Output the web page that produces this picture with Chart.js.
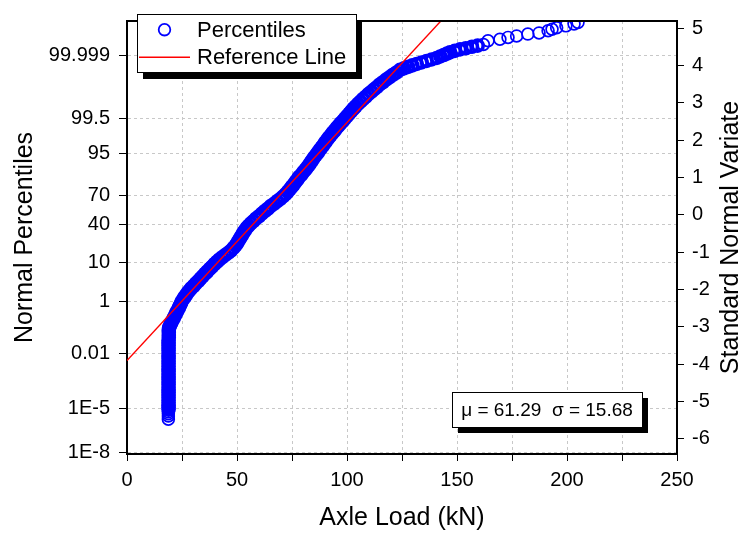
<!DOCTYPE html>
<html>
<head>
<meta charset="utf-8">
<script src="https://cdn.jsdelivr.net/npm/chart.js@4.4.0/dist/chart.umd.min.js"></script>
<style>
  html, body { margin: 0; padding: 0; background: #fff; }
  #wrap { width: 744px; height: 535px; }
</style>
</head>
<body>
<div id="wrap"><canvas id="chart" width="744" height="535"></canvas></div>
<script>
// percentiles: axle load (kN) vs standard normal variate
const axleLoad = [
  18.8, 18.8, 18.8, 18.8, 18.9, 18.9, 18.9, 18.9, 18.9, 18.9, 18.9, 18.9,
  18.9, 18.9, 18.9, 18.9, 18.9, 18.9, 18.9, 18.9, 18.9, 18.9, 18.9, 18.9,
  18.9, 18.9, 18.9, 18.9, 18.9, 18.9, 18.9, 18.9, 19.0, 19.0, 19.0, 19.0,
  19.2, 19.6, 20.1, 20.7, 21.3, 21.9, 22.5, 23.0, 23.6, 24.1, 24.6, 25.1,
  25.9, 26.6, 27.4, 28.2, 29.2, 30.3, 31.3, 32.4, 33.4, 34.4, 35.5, 36.5,
  37.6, 38.7, 39.8, 40.9, 42.0, 43.3, 44.6, 46.0, 47.3, 48.4, 49.4, 50.1,
  50.8, 51.5, 52.1, 52.8, 53.5, 54.3, 55.2, 56.3, 57.5, 58.7, 60.0, 61.3,
  62.7, 64.0, 65.3, 66.8, 68.2, 69.6, 71.0, 72.1, 73.1, 74.0, 74.9, 75.8,
  76.6, 77.4, 78.2, 79.2, 80.1, 81.0, 81.9, 82.7, 83.5, 84.2, 85.0, 85.8,
  86.7, 87.5, 88.4, 89.2, 90.0, 90.8, 91.6, 92.5, 93.4, 94.3, 95.2, 96.1,
  97.1, 98.1, 99.1, 100.0, 101.0, 101.9, 102.9, 103.9, 105.0, 106.1, 107.3, 108.5,
  109.7, 111.0, 112.3, 113.6, 114.9, 116.3, 117.8, 119.3, 120.9, 122.5, 124.1, 125.9,
  127.8, 129.7, 131.7, 133.9, 136.2, 138.5, 140.8, 142.4, 144.0, 145.5, 146.8, 149.0,
  151.4, 154.0, 156.8, 159.4, 162.0,
  164.1, 169.5, 173.2, 177.1, 182.2, 187.3, 191.4, 193.2, 195.3, 199.5, 203.2, 205.0
];
const normalVariate = [
  -5.48, -5.39, -5.33, -5.28, -5.22, -5.16, -5.10, -5.04, -4.97, -4.90, -4.83, -4.76,
  -4.69, -4.62, -4.55, -4.48, -4.41, -4.34, -4.27, -4.20, -4.13, -4.06, -3.99, -3.92,
  -3.85, -3.78, -3.71, -3.64, -3.57, -3.50, -3.43, -3.36, -3.29, -3.22, -3.15, -3.08,
  -3.02, -2.96, -2.90, -2.83, -2.76, -2.69, -2.62, -2.56, -2.49, -2.43, -2.36, -2.30,
  -2.23, -2.17, -2.10, -2.04, -1.97, -1.91, -1.84, -1.78, -1.71, -1.65, -1.58, -1.52,
  -1.45, -1.39, -1.32, -1.26, -1.20, -1.14, -1.08, -1.02, -0.96, -0.89, -0.82, -0.76,
  -0.69, -0.62, -0.56, -0.49, -0.43, -0.36, -0.30, -0.23, -0.17, -0.10, -0.04, 0.03,
  0.10, 0.16, 0.23, 0.29, 0.36, 0.42, 0.49, 0.55, 0.62, 0.68, 0.75, 0.81,
  0.88, 0.94, 1.01, 1.07, 1.14, 1.20, 1.27, 1.33, 1.40, 1.46, 1.53, 1.59,
  1.66, 1.73, 1.80, 1.86, 1.93, 1.99, 2.06, 2.12, 2.19, 2.25, 2.32, 2.38,
  2.45, 2.51, 2.58, 2.64, 2.71, 2.77, 2.84, 2.90, 2.97, 3.03, 3.10, 3.16,
  3.23, 3.29, 3.36, 3.42, 3.49, 3.55, 3.62, 3.68, 3.75, 3.81, 3.88, 3.92,
  3.96, 4.00, 4.04, 4.08, 4.12, 4.16, 4.20, 4.24, 4.28, 4.32, 4.35, 4.39,
  4.43, 4.46, 4.50, 4.53, 4.56,
  4.66, 4.70, 4.75, 4.79, 4.84, 4.87, 4.93, 4.97, 5.01, 5.06, 5.11, 5.15
];

// fitted normal reference line (end points)
const refLoad = [0, 250];
const refVariate = [-3.909, 12.035];
const mu = 61.29;
const sigma = 15.68;

// left axis: percentile labels and their standard normal positions
const pctLabels = ['1E-8', '1E-5', '0.01', '1', '10', '40', '70', '95', '99.5', '99.999'];
const pctZ = [-6.361, -5.199, -3.719, -2.326, -1.282, -0.253, 0.524, 1.645, 2.576, 4.265];
const variateTicks = [-6, -5, -4, -3, -2, -1, 0, 1, 2, 3, 4, 5];
const loadTicks = [0, 25, 50, 75, 100, 125, 150, 175, 200, 225, 250];

const FONT = 'Arial, "Liberation Sans", sans-serif';
Chart.defaults.font.family = FONT;
Chart.defaults.color = '#000';

const percentilePoints = axleLoad.map((x, i) => ({ x: x, y: normalVariate[i] }));
const refPoints = refLoad.map((x, i) => ({ x: x, y: refVariate[i] }));

// thousands of overlapping rings in the original look like a solid band,
// so the densely packed part gets a heavier ring
const isDense = c => c.raw && c.raw.x < 160 && c.raw.y > -5.25;

const gridColor = '#c8c8c8';
const tickFont = { size: 20 };

const extras = {
  id: 'extras',
  afterDraw(chart) {
    const ctx = chart.ctx;
    const a = chart.chartArea;
    ctx.save();
    // top frame line
    ctx.strokeStyle = '#000';
    ctx.lineWidth = 2;
    ctx.beginPath();
    ctx.moveTo(a.left - 1, a.top);
    ctx.lineTo(a.right + 1, a.top);
    ctx.stroke();

    // legend box with drop shadow
    const lx = 137, ly = 14, lw = 219, lh = 58;
    ctx.fillStyle = '#000';
    ctx.fillRect(lx + 6, ly + 7, lw, lh);
    ctx.fillStyle = '#fff';
    ctx.fillRect(lx, ly, lw, lh);
    ctx.lineWidth = 1;
    ctx.strokeRect(lx + 0.5, ly + 0.5, lw, lh);
    ctx.strokeStyle = '#0000ff';
    ctx.lineWidth = 1.8;
    ctx.beginPath();
    ctx.arc(164.5, 29.7, 5.8, 0, Math.PI * 2);
    ctx.stroke();
    ctx.strokeStyle = '#ff0000';
    ctx.lineWidth = 1.4;
    ctx.beginPath();
    ctx.moveTo(139, 57.3);
    ctx.lineTo(190, 57.3);
    ctx.stroke();
    ctx.fillStyle = '#000';
    ctx.font = '22px ' + FONT;
    ctx.textAlign = 'left';
    ctx.textBaseline = 'alphabetic';
    ctx.fillText('Percentiles', 197, 37);
    ctx.fillText('Reference Line', 197, 64);

    // statistics box
    const sx = 452, sy = 392, sw = 190, sh = 35;
    ctx.fillStyle = '#000';
    ctx.fillRect(sx + 6, sy + 6, sw, sh);
    ctx.fillStyle = '#fff';
    ctx.fillRect(sx, sy, sw, sh);
    ctx.strokeStyle = '#000';
    ctx.lineWidth = 1;
    ctx.strokeRect(sx + 0.5, sy + 0.5, sw, sh);
    ctx.fillStyle = '#000';
    ctx.font = '19px ' + FONT;
    ctx.textAlign = 'center';
    ctx.textBaseline = 'middle';
    ctx.fillText('\u03bc = ' + mu.toFixed(2) + '  \u03c3 = ' + sigma.toFixed(2), sx + sw / 2, sy + sh / 2 + 1);

    // right axis title, reading bottom to top
    ctx.translate(731, (a.top + a.bottom) / 2);
    ctx.rotate(-Math.PI / 2);
    ctx.font = '25px ' + FONT;
    ctx.fillText('Standard Normal Variate', 0, 0);
    ctx.restore();
  }
};

new Chart(document.getElementById('chart'), {
  type: 'scatter',
  data: {
    datasets: [{
      label: 'Reference Line',
      data: refPoints,
      showLine: true,
      borderColor: '#ff0000',
      borderWidth: 1.4,
      pointRadius: 0,
      order: 0
    }, {
      label: 'Percentiles',
      data: percentilePoints,
      pointStyle: 'circle',
      pointRadius: c => (isDense(c) ? 5.5 : 5.9),
      pointBorderWidth: c => (isDense(c) ? 3.6 : 1.7),
      borderColor: '#0000ff',
      backgroundColor: 'rgba(0,0,0,0)',
      order: 1
    }]
  },
  options: {
    responsive: false,
    animation: false,
    devicePixelRatio: 1,
    layout: { padding: { top: 10, left: 0, right: 0, bottom: 0 } },
    plugins: {
      legend: { display: false },
      tooltip: { enabled: false }
    },
    scales: {
      x: {
        type: 'linear',
        min: 0,
        max: 250,
        afterBuildTicks: axis => { axis.ticks = loadTicks.map(v => ({ value: v })); },
        afterFit: axis => { axis.height = 81; },
        ticks: {
          font: tickFont,
          padding: 7,
          maxRotation: 0,
          autoSkip: false,
          callback: v => (v % 50 === 0 ? String(v) : '')
        },
        grid: { color: gridColor, tickColor: '#000', tickLength: 7, lineWidth: 1 },
        border: { color: '#000', width: 2, dash: [3, 3] },
        title: { display: true, text: 'Axle Load (kN)', font: { size: 25 }, padding: { top: 0, bottom: 2 } }
      },
      y: {
        type: 'linear',
        position: 'left',
        min: -6.41,
        max: 5.19,
        afterBuildTicks: axis => { axis.ticks = pctZ.map(v => ({ value: v })); },
        afterFit: axis => { axis.width = 127; },
        ticks: {
          font: tickFont,
          padding: 9,
          autoSkip: false,
          callback: (v, i) => pctLabels[i]
        },
        grid: { color: gridColor, tickColor: '#000', tickLength: 8, lineWidth: 1 },
        border: { color: '#000', width: 2, dash: [3, 3] },
        title: { display: true, text: 'Normal Percentiles', font: { size: 25 }, padding: { top: 10, bottom: 0 } }
      },
      y2: {
        type: 'linear',
        position: 'right',
        min: -6.41,
        max: 5.19,
        afterBuildTicks: axis => { axis.ticks = variateTicks.map(v => ({ value: v })); },
        afterFit: axis => { axis.width = 67; },
        ticks: { font: tickFont, padding: 8, autoSkip: false },
        grid: { drawOnChartArea: false, tickColor: '#000', tickLength: 7 },
        border: { color: '#000', width: 2 }
      }
    }
  },
  plugins: [extras]
});
</script>
</body>
</html>
